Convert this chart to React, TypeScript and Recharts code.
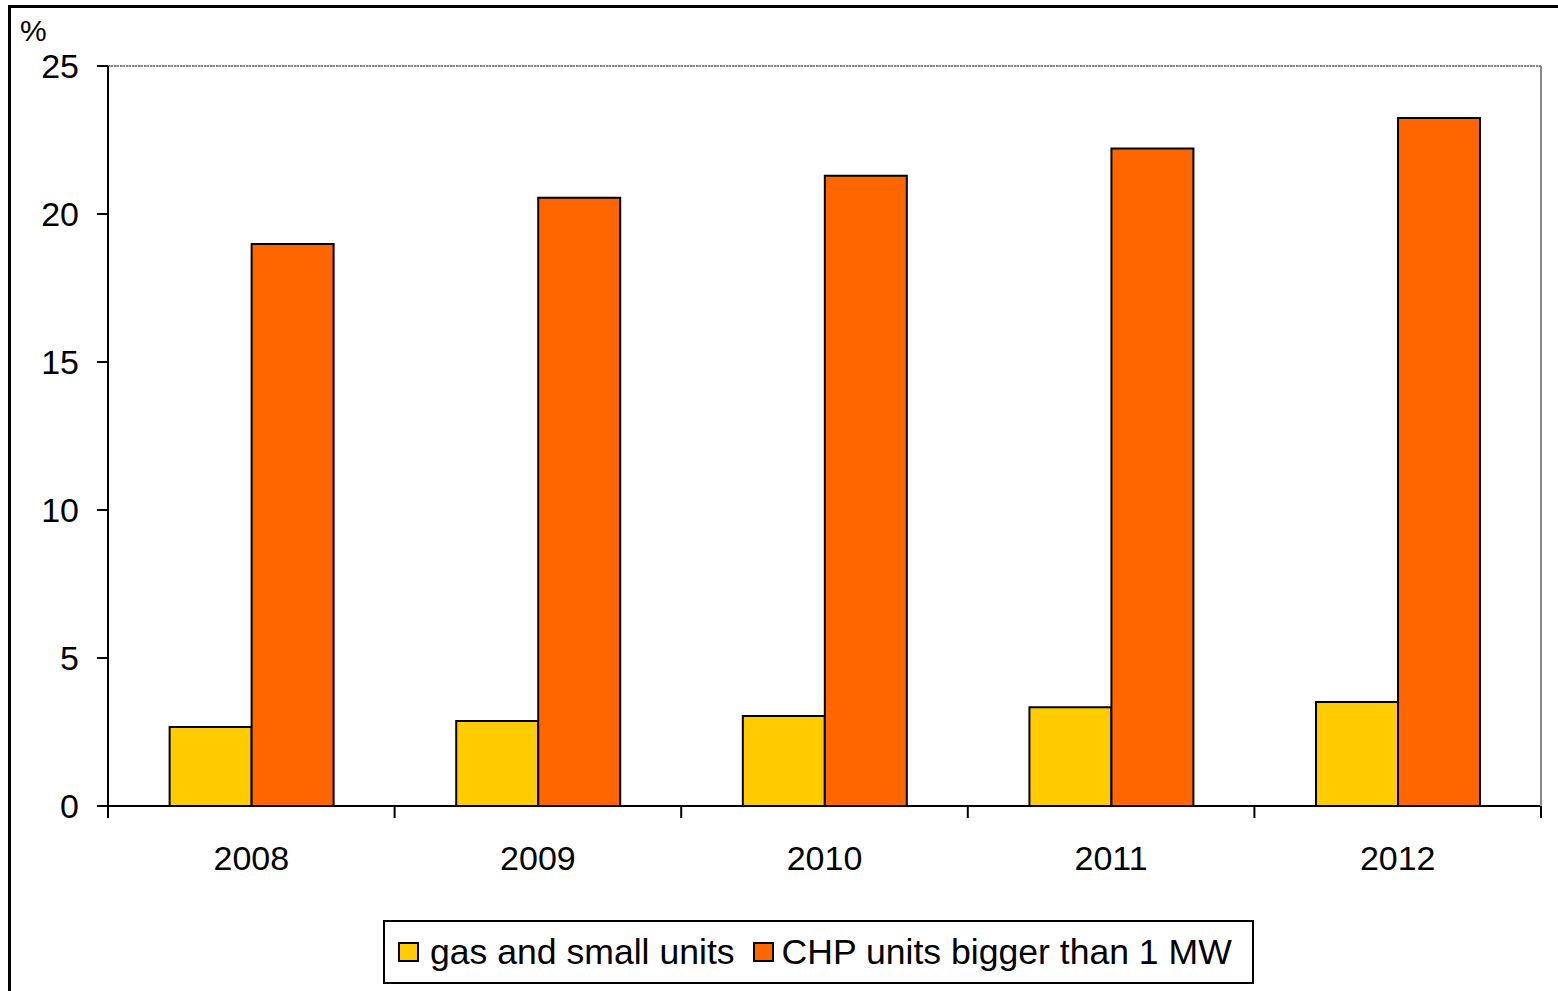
import React from 'react';
import { BarChart, Bar, XAxis, YAxis, CartesianGrid, ReferenceLine } from 'recharts';

const years = ['2008', '2009', '2010', '2011', '2012'];
const gasSmall = [2.67, 2.87, 3.04, 3.34, 3.51];
const chpBig = [18.99, 20.55, 21.29, 22.21, 23.24];
const yTicks = [0, 5, 10, 15, 20, 25];
const seriesNames = ['gas and small units', 'CHP units bigger than 1 MW'];
const colors = ['#FFCC00', '#FF6600'];

const data = years.map((y, i) => ({ year: y, gas: gasSmall[i], chp: chpBig[i] }));

const FONT = '"Liberation Sans", Arial, sans-serif';

function YearTick(props: any) {
  const { x, y, payload, visibleTicksCount } = props;
  const half = payload && payload.offset ? payload.offset : 0;
  const isLast = payload && payload.index === visibleTicksCount - 1;
  return (
    <g>
      <line x1={x - half} x2={x - half} y1={y} y2={y + 12} stroke="#000" strokeWidth={2} />
      {isLast && <line x1={x + half} x2={x + half} y1={y} y2={y + 12} stroke="#000" strokeWidth={2} />}
      <text x={x} y={y + 40} dy="0.71em" textAnchor="middle" fontSize={34} fill="#000" fontFamily={FONT}>
        {payload.value}
      </text>
    </g>
  );
}

export default function App() {
  return (
    <div style={{ position: 'absolute', left: 0, top: 0, width: 1558, height: 991, overflow: 'hidden', background: '#fff', fontFamily: FONT }}>
      <div style={{ position: 'absolute', left: 8, top: 5, width: 1700, height: 1200, border: '3px solid #000', boxSizing: 'border-box' }} />
      <div style={{ position: 'absolute', left: 20, top: 14, fontSize: 30, color: '#000', lineHeight: '34px' }}>%</div>
      <div style={{ position: 'absolute', left: 0, top: 0 }}>
        <BarChart
          width={1558}
          height={991}
          data={data}
          margin={{ top: 66, right: 16, left: 0, bottom: 0 }}
          barCategoryGap="21.5%"
          barGap={0}
        >
          <CartesianGrid vertical={false} stroke="#707070" strokeDasharray="1 1" strokeWidth={1} />
          <XAxis
            dataKey="year"
            height={185}
            tickSize={0}
            tickMargin={0}
            tickLine={false}
            axisLine={{ stroke: '#000', strokeWidth: 2 }}
            tick={<YearTick />}
            interval={0}
          />
          <YAxis
            yAxisId="l"
            width={108}
            domain={[0, 25]}
            ticks={yTicks}
            tickSize={11}
            tickMargin={18}
            axisLine={{ stroke: '#000', strokeWidth: 2 }}
            tickLine={{ stroke: '#000', strokeWidth: 2 }}
            tick={{ fontSize: 34, fill: '#000', fontFamily: FONT }}
          />
          <YAxis
            yAxisId="r"
            orientation="right"
            width={1}
            domain={[0, 25]}
            tick={false}
            tickLine={false}
            axisLine={{ stroke: '#888', strokeWidth: 2 }}
          />
          <ReferenceLine yAxisId="l" y={25} stroke="#888" strokeWidth={2} strokeDasharray="2 1" />
          <Bar yAxisId="l" dataKey="gas" name={seriesNames[0]} fill={colors[0]} stroke="#000" strokeWidth={2} isAnimationActive={false} />
          <Bar yAxisId="l" dataKey="chp" name={seriesNames[1]} fill={colors[1]} stroke="#000" strokeWidth={2} isAnimationActive={false} />
        </BarChart>
      </div>
      <div
        style={{
          position: 'absolute',
          left: 383,
          top: 920,
          width: 871,
          height: 64,
          border: '2px solid #000',
          boxSizing: 'border-box',
          background: '#fff',
          display: 'flex',
          alignItems: 'center',
          paddingLeft: 13,
          fontSize: 35.6,
          color: '#000',
          whiteSpace: 'nowrap',
        }}
      >
        <span style={{ display: 'inline-block', width: 21, height: 20, background: colors[0], border: '2px solid #000', boxSizing: 'border-box', marginRight: 11 }} />
        <span style={{ marginRight: 18 }}>{seriesNames[0]}</span>
        <span style={{ display: 'inline-block', width: 21, height: 20, background: colors[1], border: '2px solid #000', boxSizing: 'border-box', marginRight: 8 }} />
        <span>{seriesNames[1]}</span>
      </div>
    </div>
  );
}
